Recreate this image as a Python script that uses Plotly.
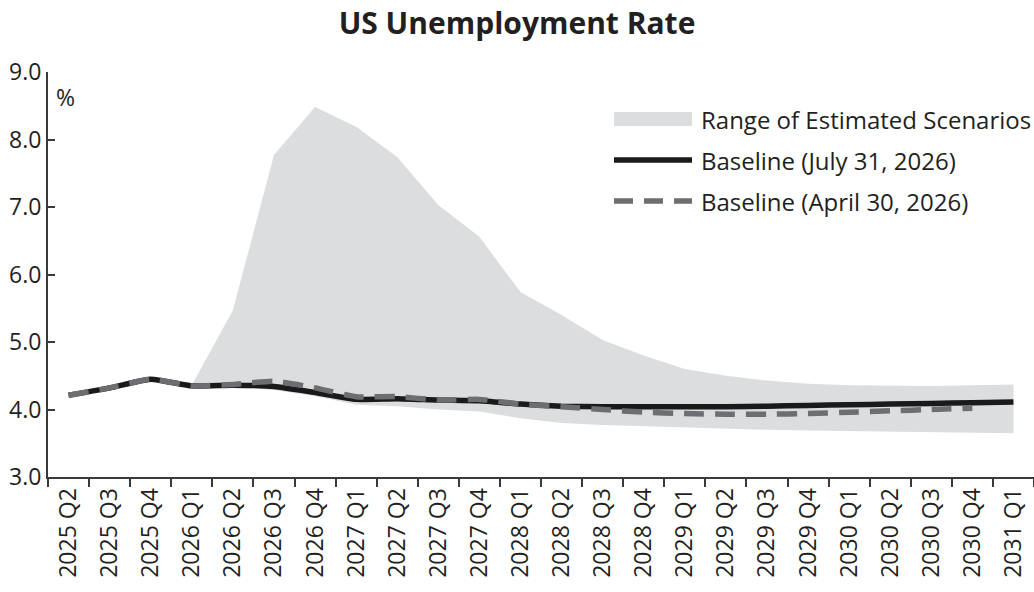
import plotly.graph_objects as go

# quarters on the x axis
quarters = [
    '2025 Q2', '2025 Q3', '2025 Q4', '2026 Q1', '2026 Q2', '2026 Q3',
    '2026 Q4', '2027 Q1', '2027 Q2', '2027 Q3', '2027 Q4', '2028 Q1',
    '2028 Q2', '2028 Q3', '2028 Q4', '2029 Q1', '2029 Q2', '2029 Q3',
    '2029 Q4', '2030 Q1', '2030 Q2', '2030 Q3', '2030 Q4', '2031 Q1',
]

# baseline of July 31, 2026 (full span)
baseline_jul = [
    4.21, 4.32, 4.45, 4.35, 4.36, 4.34, 4.25, 4.15, 4.16, 4.14, 4.13, 4.08,
    4.05, 4.04, 4.04, 4.04, 4.04, 4.05, 4.06, 4.07, 4.08, 4.09, 4.10, 4.11,
]

# baseline of April 30, 2026 (ends 2030 Q4)
quarters_apr = quarters[:23]
baseline_apr = [
    4.21, 4.32, 4.45, 4.35, 4.37, 4.42, 4.32, 4.19, 4.19, 4.14, 4.15, 4.08,
    4.04, 4.00, 3.96, 3.94, 3.93, 3.93, 3.94, 3.96, 3.98, 4.00, 4.02,
]

# scenario range, from 2026 Q1 on
quarters_range = quarters[3:]
range_high = [
    4.36, 5.47, 7.77, 8.48, 8.19, 7.74, 7.03, 6.56, 5.74, 5.40, 5.03, 4.80,
    4.60, 4.50, 4.43, 4.38, 4.36, 4.35, 4.35, 4.36, 4.37,
]
range_low = [
    4.32, 4.33, 4.29, 4.20, 4.07, 4.05, 4.00, 3.97, 3.87, 3.80, 3.77, 3.75,
    3.73, 3.71, 3.70, 3.69, 3.68, 3.67, 3.66, 3.65, 3.65,
]

y_ticks = [3, 4, 5, 6, 7, 8, 9]

FONT = 'Open Sans'
INK = '#231f20'
BAND = '#dcdddf'
DARK = '#1a1a1a'
GREY = '#6d6e71'

fig = go.Figure()

fig.add_trace(go.Scatter(
    x=quarters_range, y=range_low, mode='lines',
    line=dict(width=0, color=BAND), showlegend=False, hoverinfo='skip',
))
fig.add_trace(go.Scatter(
    x=quarters_range, y=range_high, mode='lines', fill='tonexty',
    fillcolor=BAND, line=dict(width=0, color=BAND),
    name='Range of Estimated Scenarios', showlegend=False,
))
fig.add_trace(go.Scatter(
    x=quarters, y=baseline_jul, mode='lines',
    line=dict(color=DARK, width=5.5, shape='spline', smoothing=0.5),
    name='Baseline (July 31, 2026)', showlegend=False,
))
fig.add_trace(go.Scatter(
    x=quarters_apr, y=baseline_apr, mode='lines',
    line=dict(color=GREY, width=5.5, dash='20px,11px', shape='spline', smoothing=0.5),
    name='Baseline (April 30, 2026)', showlegend=False,
))

# ── hand-drawn legend (long symbols like the original) ──────────────────
L, T, W, H = 48, 72, 986, 405


def px(x):
    return (x - L) / W


def py(y):
    return (T + H - y) / H


shapes = [
    dict(type='rect', xref='paper', yref='paper',
         x0=px(614), x1=px(692), y0=py(126), y1=py(112),
         fillcolor=BAND, line=dict(width=0)),
    dict(type='line', xref='paper', yref='paper',
         x0=px(614), x1=px(692), y0=py(160), y1=py(160),
         line=dict(color=DARK, width=5.5)),
    dict(type='line', xref='paper', yref='paper',
         x0=px(614), x1=px(692), y0=py(201), y1=py(201),
         line=dict(color=GREY, width=5.5, dash='19px,11px')),
]
legend_text = [
    ('Range of Estimated Scenarios', 119),
    ('Baseline (July 31, 2026)', 160),
    ('Baseline (April 30, 2026)', 201),
]
annotations = [
    dict(text=t, xref='paper', yref='paper', x=px(699), y=py(yy),
         xanchor='left', yanchor='middle', showarrow=False,
         font=dict(family=FONT, size=24, color=INK))
    for t, yy in legend_text
]
annotations.append(dict(
    text='%', xref='paper', yref='paper', x=px(54), y=py(97),
    xanchor='left', yanchor='middle', showarrow=False,
    font=dict(family=FONT, size=23, color=INK),
))

fig.update_layout(
    title=dict(text='<b>US Unemployment Rate</b>', x=0.5, xanchor='center',
               y=1 - 23 / 592, yanchor='middle',
               font=dict(family=FONT, size=30, color=INK)),
    width=1034, height=592,
    margin=dict(l=L, r=0, t=T, b=592 - T - H),
    paper_bgcolor='white', plot_bgcolor='white',
    shapes=shapes, annotations=annotations,
    showlegend=False,
)
fig.update_xaxes(
    type='category', categoryorder='array', categoryarray=quarters,
    range=[-0.5, len(quarters) - 0.5], autorange=False,
    showgrid=False, zeroline=False,
    showline=True, linecolor='#3a3a3a', linewidth=2,
    ticks='outside', tickson='boundaries', ticklen=8, tickwidth=1.5,
    tickcolor='#3a3a3a', tickangle=-90,
    tickfont=dict(family=FONT, size=23, color=INK),
)
fig.update_yaxes(
    range=[3, 9], autorange=False,
    tickvals=y_ticks, ticktext=[f'{v:.1f}' for v in y_ticks],
    showgrid=False, zeroline=False,
    showline=True, linecolor='#3a3a3a', linewidth=2,
    ticks='inside', ticklen=7, tickwidth=1.5, tickcolor='#3a3a3a',
    tickfont=dict(family=FONT, size=23, color=INK),
)

# the page's default body margin would shift the figure by 8px
fig.write_html('out.html', config={'displayModeBar': False},
               post_script="document.body.style.margin='0';")
